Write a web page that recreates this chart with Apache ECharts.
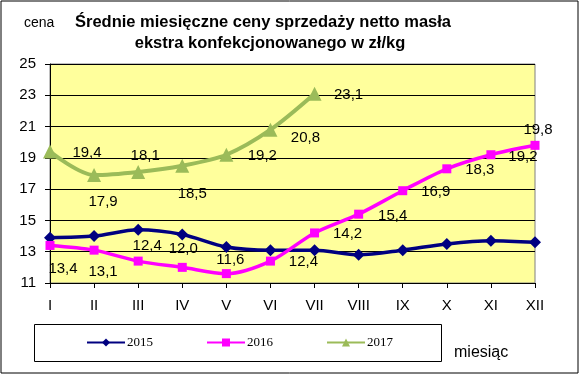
<!DOCTYPE html>
<html>
<head>
<meta charset="utf-8">
<script src="https://cdn.jsdelivr.net/npm/echarts@6/dist/echarts.min.js"></script>
<style>
html,body{margin:0;padding:0;background:#fff;}
#chart{width:580px;height:375px;}
</style>
</head>
<body>
<div id="chart"></div>
<script>
// miesiące
var months = ['I','II','III','IV','V','VI','VII','VIII','IX','X','XI','XII'];
// ceny zł/kg
var y2015 = [13.9, 14.0, 14.4, 14.1, 13.3, 13.1, 13.1, 12.8, 13.1, 13.5, 13.7, 13.6];
var y2016 = [13.4, 13.1, 12.4, 12.0, 11.6, 12.4, 14.2, 15.4, 16.9, 18.3, 19.2, 19.8];
var y2017 = [19.4, 17.9, 18.1, 18.5, 19.2, 20.8, 23.1];
var yTicks = [11, 13, 15, 17, 19, 21, 23, 25];

// przesuniecia etykiet (jak w excelu)
var off2016 = [[13,23],[9,22],[9,-15],[1,-18],[4,-14],[33,1],[33,1],[34,2],[33,1],[33,1],[32,2],[3,-15]];
var off2017 = [[37,1],[9,27],[7,-16],[10,28],[36,1],[35,8],[34,1]];

var myChart = echarts.init(document.getElementById('chart'));

function fmt(v){
  return v.toFixed(1).replace('.', ',');
}
function withLabels(vals, offs){
  return vals.map(function(v, i){
    return {
      value: v,
      label: {show: true, position: 'inside', offset: offs[i], formatter: fmt(v)}
    };
  });
}

var font = 'Liberation Sans, Arial, sans-serif';
var option = {
  animation: false,
  textStyle: {fontFamily: font},
  grid: {left: 50, right: 45, top: 64, bottom: 92, show: true,
    backgroundColor: '#FFFF9C', borderColor: '#808080', borderWidth: 1},
  graphic: [
    {type: 'rect', shape: {x: 1, y: 1, width: 577, height: 372},
      style: {fill: 'none', stroke: '#000', lineWidth: 1}, silent: true},
    {type: 'text', left: 24, top: 16, style: {text: 'cena', font: '14px ' + font, fill: '#000'}},
    {type: 'text', x: 263, y: 14, style: {text: 'Średnie miesięczne ceny sprzedaży netto masła',
      font: 'bold 16.5px ' + font, fill: '#000', textAlign: 'center'}},
    {type: 'text', x: 270, y: 35, style: {text: 'ekstra konfekcjonowanego w zł/kg',
      font: 'bold 16.5px ' + font, fill: '#000', textAlign: 'center'}},
    {type: 'rect', shape: {x: 34.5, y: 324.5, width: 407, height: 37},
      style: {fill: '#fff', stroke: '#000', lineWidth: 1}, silent: true, z: -1},
    {type: 'text', left: 454, top: 345, style: {text: 'miesiąc', font: '16px ' + font, fill: '#000'}}
  ],
  legend: {
    left: 86, top: 336, padding: 0, itemGap: 53, itemWidth: 38, itemHeight: 10,
    textStyle: {fontFamily: 'Liberation Serif, Times New Roman, serif', fontSize: 13, color: '#000', padding: [0,0,0,-3]},
    data: ['2015', '2016', '2017']
  },
  xAxis: {
    type: 'category', data: months, boundaryGap: false,
    axisLine: {lineStyle: {color: '#000', width: 1}},
    axisTick: {show: true, length: 5, interval: 0, lineStyle: {color: '#000'}},
    axisLabel: {color: '#000', fontSize: 15, margin: 15, interval: 0}
  },
  yAxis: {
    type: 'value', min: 11, max: 25, interval: 2,
    axisLine: {show: true, lineStyle: {color: '#000'}},
    axisTick: {show: true, length: 5, lineStyle: {color: '#000'}},
    axisLabel: {color: '#000', fontSize: 15, margin: 14,
      formatter: function(v){ return yTicks.indexOf(v) >= 0 ? String(v) : ''; }},
    splitLine: {show: true, lineStyle: {color: '#000', width: 1}}
  },
  series: [
    {name: '2015', type: 'line', data: y2015, smooth: 0.3,
      symbol: 'diamond', symbolSize: 12, itemStyle: {color: '#000080'},
      lineStyle: {color: '#000080', width: 3.5}, z: 3},
    {name: '2016', type: 'line', data: withLabels(y2016, off2016), smooth: 0.3,
      symbol: 'rect', symbolSize: 9, itemStyle: {color: '#FF00FF'},
      lineStyle: {color: '#FF00FF', width: 3.5},
      label: {color: '#000', fontSize: 15, fontFamily: font}, z: 4},
    {name: '2017', type: 'line', data: withLabels(y2017, off2017), smooth: 0.3,
      symbol: 'triangle', symbolSize: 14, itemStyle: {color: '#9BBB59'},
      lineStyle: {color: '#9BBB59', width: 4}, 
      label: {color: '#000', fontSize: 15, fontFamily: font}, z: 5}
  ]
};
myChart.setOption(option);
</script>
</body>
</html>
